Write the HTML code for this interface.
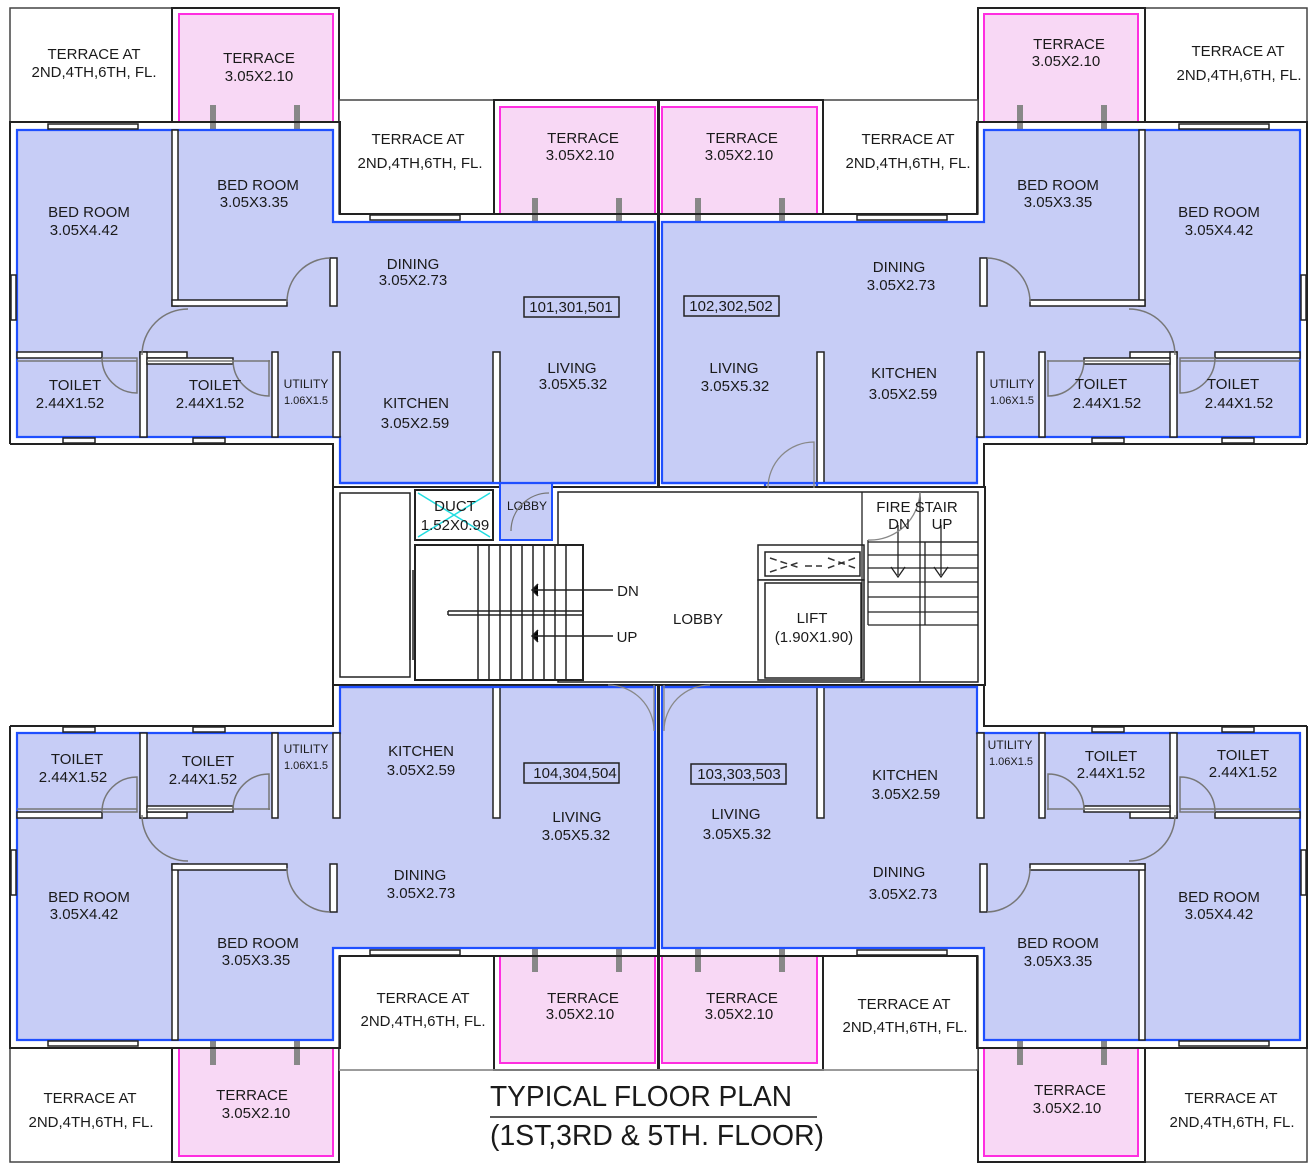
<!DOCTYPE html>
<html><head><meta charset="utf-8"><style>
html,body{margin:0;padding:0;background:#fff}
svg{display:block}
text{font-family:"Liberation Sans",sans-serif;fill:#1a1a1a;font-size:15px;text-anchor:middle}
.s{font-size:12px}
</style></head><body>
<svg width="1316" height="1176" viewBox="0 0 1316 1176" xmlns="http://www.w3.org/2000/svg">
<defs>
<g id="q">
  <rect x="10" y="8" width="169" height="114" fill="#fff" stroke="#444" stroke-width="1.5"/>
  <rect x="172" y="8" width="167" height="114" fill="#fff" stroke="#222" stroke-width="2"/>
  <rect x="179" y="14" width="154" height="108" fill="#f8d8f5" stroke="#ff2ee0" stroke-width="2"/>
  <rect x="339" y="100" width="155" height="114" fill="#fff" stroke="#444" stroke-width="1.5"/>
  <rect x="494" y="100" width="164" height="114" fill="#fff" stroke="#222" stroke-width="2"/>
  <rect x="500" y="107" width="155" height="107" fill="#f8d8f5" stroke="#ff2ee0" stroke-width="2"/>
  <rect x="210" y="105" width="6" height="25" fill="#888"/>
  <rect x="294" y="105" width="6" height="25" fill="#888"/>
  <rect x="532" y="198" width="6" height="24" fill="#888"/>
  <rect x="616" y="198" width="6" height="24" fill="#888"/>
  <path d="M10 444 V122 H340 V214 H658 V490" fill="none" stroke="#222" stroke-width="2"/>
  <path d="M17 130 H333 V222 H655 V483 H552 V540 H500 V483 H340 V437 H17 Z" fill="#c7cdf6" stroke="#1f4fff" stroke-width="2.2"/>
  <path d="M10 444 H333 V490" fill="none" stroke="#222" stroke-width="2"/>
  <g fill="#fff" stroke="#222" stroke-width="1.5">
    <rect x="172" y="130" width="6" height="176"/>
    <rect x="172" y="300" width="115" height="6"/>
    <rect x="330" y="258" width="7" height="48"/>
    <rect x="17" y="352" width="85" height="6"/>
    <rect x="140" y="352" width="47" height="6"/>
    <rect x="140" y="352" width="7" height="85"/>
    <rect x="147" y="358" width="86" height="6"/>
    <rect x="272" y="352" width="6" height="85"/>
    <rect x="333" y="352" width="7" height="85"/>
    <rect x="493" y="352" width="7" height="131"/>
    <rect x="48" y="124" width="90" height="5"/>
    <rect x="370" y="215" width="90" height="5"/>
    <rect x="63" y="438" width="32" height="5"/>
    <rect x="193" y="438" width="32" height="5"/>
    <rect x="11" y="275" width="5" height="45"/>
  </g>
  <g fill="none" stroke="#777" stroke-width="1.5">
    <path d="M330 258 A44 44 0 0 0 287 302"/>
    <path d="M188 309 A46 46 0 0 0 142 355"/>
    <path d="M102 358 A35 35 0 0 0 137 393 V358 H102"/>
    <path d="M233 360 A36 36 0 0 0 269 396 V360"/>
    <path d="M17 361 H137 M147 361 H270"/>
  </g>
</g>
</defs>
<use href="#q"/>
<use href="#q" transform="translate(1317 0) scale(-1 1)"/>
<use href="#q" transform="translate(0 1170) scale(1 -1)"/>
<use href="#q" transform="translate(1317 1170) scale(-1 -1)"/>

<path d="M339 1070 H976" stroke="#999" stroke-width="1.5"/>
<rect x="333" y="487" width="652" height="198" fill="#fff" stroke="#222" stroke-width="2"/>
<rect x="340" y="493" width="70" height="184" fill="#fff" stroke="#222" stroke-width="1.5"/>
<path d="M500 483 H552 V540 H500 Z" fill="#c7cdf6" stroke="#1f4fff" stroke-width="2"/>
<path d="M340 483 H655 M662 483 H978" stroke="#1f4fff" stroke-width="2.2"/>
<path d="M340 687 H655 M662 687 H978" stroke="#1f4fff" stroke-width="2.2"/>
<rect x="558" y="492" width="420" height="190" fill="#fff" stroke="#222" stroke-width="1.5"/>
<rect x="415" y="490" width="78" height="50" fill="#fff" stroke="#222" stroke-width="2"/>
<path d="M418 493 L490 537 M490 493 L418 537" stroke="#22dde0" stroke-width="1.5"/>
<text x="455" y="511">DUCT</text><text x="455" y="530">1.52X0.99</text>
<text x="527" y="510" class="s">LOBBY</text>
<path d="M549 493 A38 38 0 0 0 511 531" fill="none" stroke="#777" stroke-width="1.3"/>
<rect x="415" y="545" width="168" height="135" fill="#fff" stroke="#222" stroke-width="2"/>
<g stroke="#222" stroke-width="1.5">
<path d="M478 545 V680 M489 545 V680 M500 545 V680 M511 545 V680 M522 545 V680 M533 545 V680 M544 545 V680 M555 545 V680 M566 545 V680"/>
<path d="M448 611 H583 M448 615 H583 M448 611 V615"/>
<path d="M410 570 V660 M413 570 V660"/>
<path d="M613 590 H532 M538 584 L532 590 L538 596 M613 636 H532 M538 630 L532 636 L538 642"/>
</g>
<text x="628" y="596">DN</text><text x="627" y="642">UP</text>
<text x="698" y="624">LOBBY</text>
<rect x="758" y="545" width="106" height="35" fill="#fff" stroke="#222" stroke-width="1.5"/>
<rect x="765" y="552" width="95" height="24" fill="#fff" stroke="#222" stroke-width="1.5"/>
<path d="M770 558 L800 568 M770 572 L800 562 M828 558 L855 568 M855 558 L828 568 M805 566 L822 566" stroke="#333" stroke-width="1.5" stroke-dasharray="7 4" fill="none"/>
<rect x="758" y="580" width="106" height="100" fill="#fff" stroke="#222" stroke-width="1.5"/>
<rect x="765" y="583" width="96" height="95" fill="#fff" stroke="#222" stroke-width="1.5"/>
<text x="812" y="623">LIFT</text><text x="814" y="642">(1.90X1.90)</text>
<g stroke="#222" stroke-width="1.3" fill="none">
<path d="M862 492 V682 M920 492 V625 M925 542 V625 M920 542 H978"/>
<path d="M868 542 H978 M868 555 H978 M868 568 H978 M868 582 H978 M868 597 H978 M868 612 H978 M868 625 H978 M868 540 V625 M920 625 V682"/>
<path d="M898 525 V575 M891 567 L898 577 L905 567 M941 525 V575 M934 567 L941 577 L948 567"/>
<path d="M868 540 A50 50 0 0 0 920 492" stroke="#888"/>
<path d="M768 488 A46 46 0 0 1 814 442 V488" stroke="#888"/>
<path d="M608 685 A46 46 0 0 1 654 731 V685" stroke="#888"/>
<path d="M710 685 A46 46 0 0 0 664 731 V685" stroke="#888"/>
</g>
<text x="917" y="512">FIRE STAIR</text><text x="899" y="529">DN</text><text x="942" y="529">UP</text>

<text x="94" y="59">TERRACE AT</text><text x="94" y="77">2ND,4TH,6TH, FL.</text>
<text x="259" y="63">TERRACE</text><text x="259" y="81">3.05X2.10</text>
<text x="418" y="144">TERRACE AT</text><text x="420" y="168">2ND,4TH,6TH, FL.</text>
<text x="583" y="143">TERRACE</text><text x="580" y="160">3.05X2.10</text>
<text x="742" y="143">TERRACE</text><text x="739" y="160">3.05X2.10</text>
<text x="908" y="144">TERRACE AT</text><text x="908" y="168">2ND,4TH,6TH, FL.</text>
<text x="1069" y="49">TERRACE</text><text x="1066" y="66">3.05X2.10</text>
<text x="1238" y="56">TERRACE AT</text><text x="1239" y="80">2ND,4TH,6TH, FL.</text>
<text x="423" y="1003">TERRACE AT</text><text x="423" y="1026">2ND,4TH,6TH, FL.</text>
<text x="583" y="1003">TERRACE</text><text x="580" y="1019">3.05X2.10</text>
<text x="742" y="1003">TERRACE</text><text x="739" y="1019">3.05X2.10</text>
<text x="904" y="1009">TERRACE AT</text><text x="905" y="1032">2ND,4TH,6TH, FL.</text>
<text x="90" y="1103">TERRACE AT</text><text x="91" y="1127">2ND,4TH,6TH, FL.</text>
<text x="252" y="1100">TERRACE</text><text x="256" y="1118">3.05X2.10</text>
<text x="1070" y="1095">TERRACE</text><text x="1067" y="1113">3.05X2.10</text>
<text x="1231" y="1103">TERRACE AT</text><text x="1232" y="1127">2ND,4TH,6TH, FL.</text>

<text x="89" y="217">BED ROOM</text><text x="84" y="235">3.05X4.42</text>
<text x="258" y="190">BED ROOM</text><text x="254" y="207">3.05X3.35</text>
<text x="413" y="269">DINING</text><text x="413" y="285">3.05X2.73</text>
<text x="75" y="390">TOILET</text><text x="70" y="408">2.44X1.52</text>
<text x="215" y="390">TOILET</text><text x="210" y="408">2.44X1.52</text>
<text x="306" y="388" class="s">UTILITY</text><text x="306" y="404" class="s" style="font-size:11px">1.06X1.5</text>
<text x="416" y="408">KITCHEN</text><text x="415" y="428">3.05X2.59</text>
<text x="572" y="373">LIVING</text><text x="573" y="389">3.05X5.32</text>
<rect x="524" y="297" width="95" height="20" fill="none" stroke="#222" stroke-width="1.5"/><text x="571" y="312">101,301,501</text>
<rect x="684" y="296" width="95" height="20" fill="none" stroke="#222" stroke-width="1.5"/><text x="731" y="311">102,302,502</text>
<text x="734" y="373">LIVING</text><text x="735" y="391">3.05X5.32</text>
<text x="899" y="272">DINING</text><text x="901" y="290">3.05X2.73</text>
<text x="904" y="378">KITCHEN</text><text x="903" y="399">3.05X2.59</text>
<text x="1012" y="388" class="s">UTILITY</text><text x="1012" y="404" class="s" style="font-size:11px">1.06X1.5</text>
<text x="1101" y="389">TOILET</text><text x="1107" y="408">2.44X1.52</text>
<text x="1233" y="389">TOILET</text><text x="1239" y="408">2.44X1.52</text>
<text x="1058" y="190">BED ROOM</text><text x="1058" y="207">3.05X3.35</text>
<text x="1219" y="217">BED ROOM</text><text x="1219" y="235">3.05X4.42</text>
<text x="77" y="764">TOILET</text><text x="73" y="782">2.44X1.52</text>
<text x="208" y="766">TOILET</text><text x="203" y="784">2.44X1.52</text>
<text x="306" y="753" class="s">UTILITY</text><text x="306" y="769" class="s" style="font-size:11px">1.06X1.5</text>
<text x="421" y="756">KITCHEN</text><text x="421" y="775">3.05X2.59</text>
<rect x="524" y="763" width="95" height="20" fill="none" stroke="#222" stroke-width="1.5"/><text x="575" y="778">104,304,504</text>
<text x="577" y="822">LIVING</text><text x="576" y="840">3.05X5.32</text>
<text x="420" y="880">DINING</text><text x="421" y="898">3.05X2.73</text>
<text x="89" y="902">BED ROOM</text><text x="84" y="919">3.05X4.42</text>
<text x="258" y="948">BED ROOM</text><text x="256" y="965">3.05X3.35</text>
<rect x="691" y="764" width="95" height="20" fill="none" stroke="#222" stroke-width="1.5"/><text x="739" y="779">103,303,503</text>
<text x="736" y="819">LIVING</text><text x="737" y="839">3.05X5.32</text>
<text x="905" y="780">KITCHEN</text><text x="906" y="799">3.05X2.59</text>
<text x="1010" y="749" class="s">UTILITY</text><text x="1011" y="765" class="s" style="font-size:11px">1.06X1.5</text>
<text x="1111" y="761">TOILET</text><text x="1111" y="778">2.44X1.52</text>
<text x="1243" y="760">TOILET</text><text x="1243" y="777">2.44X1.52</text>
<text x="899" y="877">DINING</text><text x="903" y="899">3.05X2.73</text>
<text x="1219" y="902">BED ROOM</text><text x="1219" y="919">3.05X4.42</text>
<text x="1058" y="948">BED ROOM</text><text x="1058" y="966">3.05X3.35</text>

<text x="641" y="1106" style="font-size:29px" textLength="302" lengthAdjust="spacingAndGlyphs">TYPICAL FLOOR PLAN</text>
<line x1="490" y1="1117" x2="817" y2="1117" stroke="#222" stroke-width="1.5"/>
<text x="657" y="1145" style="font-size:29px" textLength="334" lengthAdjust="spacingAndGlyphs">(1ST,3RD &amp; 5TH. FLOOR)</text>
</svg>
</body></html>
